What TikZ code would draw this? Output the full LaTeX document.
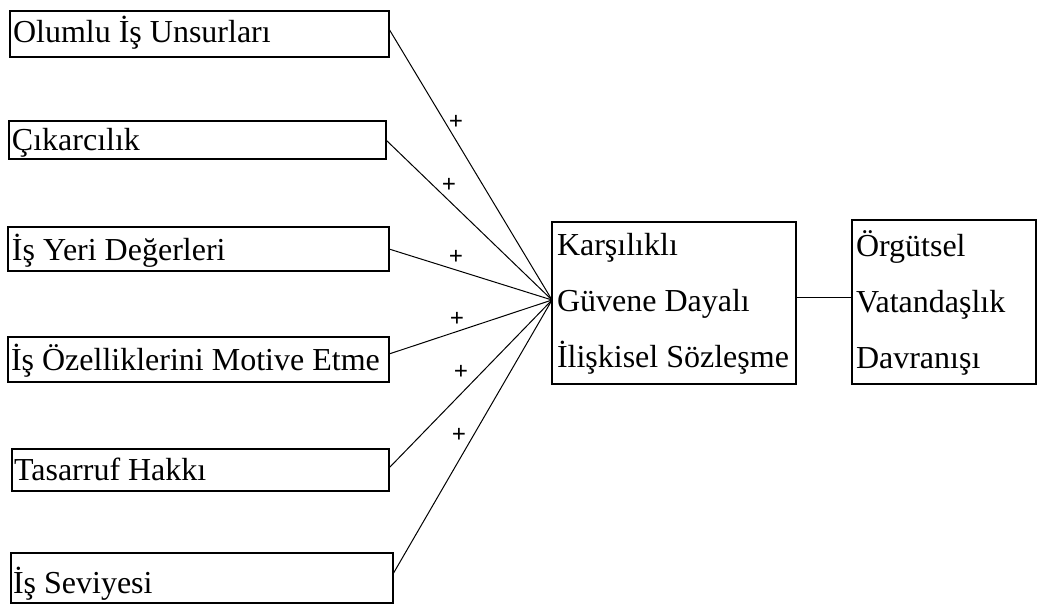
\documentclass[tikz,border=0pt]{standalone}
\usepackage{fontspec}
\setmainfont{Liberation Serif}
\begin{document}
\begin{tikzpicture}[x=1pt,y=-1pt,
  box/.style={draw=black, line width=1.6pt, fill=none, inner sep=0pt, outer sep=0pt, anchor=north west},
  txt/.style={inner sep=0pt, outer sep=0pt, anchor=base west, font=\fontsize{32}{38}\selectfont},
  conn/.style={draw=black, line width=1pt},
  plus/.style={inner sep=0pt, font=\fontsize{25}{25}\selectfont\bfseries}]
\useasboundingbox[fill=white] (0,0) rectangle (1038,608);
% left boxes
\node[box, minimum width=379pt, minimum height=46pt] (b1) at (10,11) {};
\node[box, minimum width=377pt, minimum height=38pt] (b2) at (9,121) {};
\node[box, minimum width=381pt, minimum height=44pt] (b3) at (8,227) {};
\node[box, minimum width=381pt, minimum height=45pt] (b4) at (8,337) {};
\node[box, minimum width=377pt, minimum height=42pt] (b5) at (12,449) {};
\node[box, minimum width=382pt, minimum height=50pt] (b6) at (11,553) {};
\node[txt] (t1) at (13,42) {Olumlu İş Unsurları};
\node[txt] (t2) at (12,150) {Çıkarcılık};
\node[txt] (t3) at (12,260) {İş Yeri Değerleri};
\node[txt] (t4) at (11,370) {İş Özelliklerini Motive Etme};
\node[txt] (t5) at (14,480) {Tasarruf Hakkı};
\node[txt] (t6) at (13,593) {İş Seviyesi};
% middle and right boxes
\node[box, minimum width=244pt, minimum height=162pt] (m) at (552,222) {};
\node[box, minimum width=184pt, minimum height=164pt] (r) at (852,220) {};
\node[txt] (m1) at (557,255) {Karşılıklı};
\node[txt] (m2) at (557,311) {Güvene Dayalı};
\node[txt] (m3) at (557,367) {İlişkisel Sözleşme};
\node[txt] (r1) at (856,256) {Örgütsel};
\node[txt] (r2) at (856,312) {Vatandaşlık};
\node[txt] (r3) at (856,368) {Davranışı};
% connectors
\coordinate (hub) at ([yshift=3pt]m.west);
\draw[conn] ([yshift=5pt]b1.east) -- (hub);
\draw[conn] (b2.east) -- (hub);
\draw[conn] (b3.east) -- (hub);
\draw[conn] ([yshift=5.5pt]b4.east) -- (hub);
\draw[conn] ([yshift=2pt]b5.east) -- (hub);
\draw[conn] ([yshift=4pt]b6.east) -- (hub);
\draw[conn] ([yshift=6pt]m.east) -- ([yshift=6pt]m.east -| r.west);
% plus signs
\node[plus] (p1) at (456,122) {+};
\node[plus] (p2) at (449,185) {+};
\node[plus] (p3) at (456,257) {+};
\node[plus] (p4) at (457,319) {+};
\node[plus] (p5) at (461,372) {+};
\node[plus] (p6) at (459,435) {+};
\end{tikzpicture}
\end{document}
